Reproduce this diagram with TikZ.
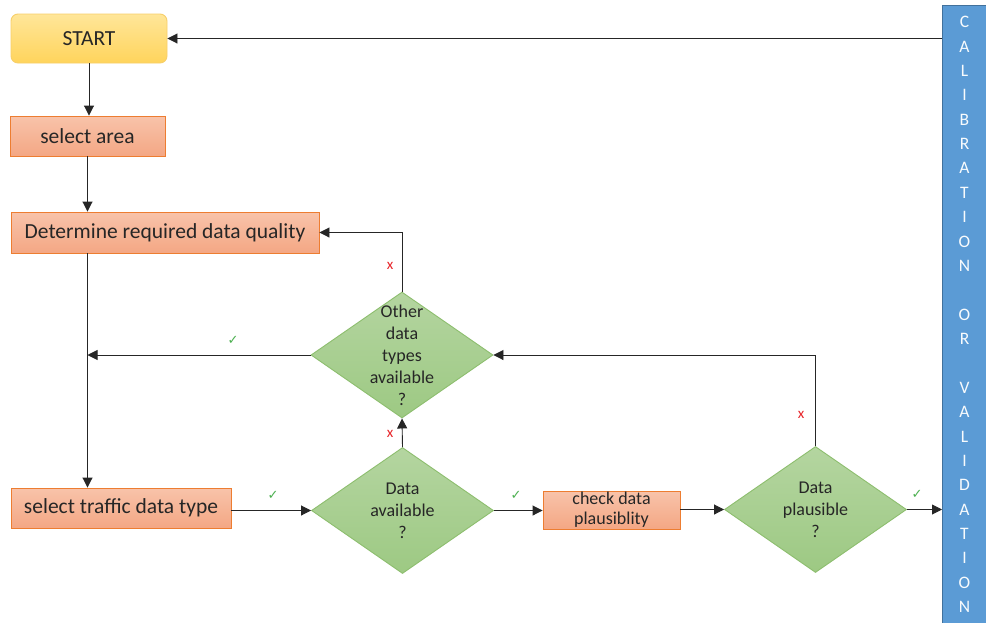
\documentclass[tikz,border=0pt]{standalone}
\usepackage{fontspec}
\setmainfont{Carlito}
\newfontfamily\symf{DejaVu Sans}
\usetikzlibrary{shapes.geometric,arrows.meta}
\definecolor{txt}{HTML}{262626}
\definecolor{salT}{HTML}{F8C3AA}
\definecolor{salB}{HTML}{F4A784}
\definecolor{salD}{HTML}{ED7D31}
\definecolor{yelT}{HTML}{FFE699}
\definecolor{yelB}{HTML}{FFD45C}
\definecolor{yelD}{HTML}{F7CF6A}
\definecolor{grnT}{HTML}{B4D5A0}
\definecolor{grnB}{HTML}{9DC983}
\definecolor{grnD}{HTML}{8DBE6E}
\definecolor{blu}{HTML}{5B9BD5}
\definecolor{bluD}{HTML}{41719C}
\definecolor{okc}{HTML}{4CB050}
\definecolor{noc}{HTML}{E8262B}
\tikzset{
  procbox/.style={draw=salD, top color=salT, bottom color=salB, line width=0.9pt,
    text=txt, inner sep=0pt, font=\fontsize{21.5}{24}\selectfont},
  startbox/.style={draw=yelD, top color=yelT, bottom color=yelB, line width=0.9pt,
    rounded corners=7pt, text=txt, inner sep=0pt, font=\fontsize{21.5}{24}\selectfont},
  decision/.style={diamond, draw=grnD, top color=grnT, bottom color=grnB, line width=0.9pt,
    inner sep=0pt, minimum width=182pt, minimum height=126pt},
  dtext/.style={align=center, text=txt, font=\fontsize{18}{22}\selectfont},
  arr/.style={draw=black!85, line width=0.9pt, -{Triangle[length=10pt,width=10pt]}},
  ok/.style={text=okc, font=\symf\fontsize{13}{13}\selectfont},
  no/.style={text=noc, font=\fontsize{15}{15}\selectfont},
}
\begin{document}
\begin{tikzpicture}[x=1pt,y=-1pt]
\useasboundingbox[fill=white] (0,0) rectangle (986,622);

% nodes
\node[startbox, minimum width=156pt, minimum height=49pt] (start) at (89,38.5) {START};
\node[procbox, minimum width=155pt, minimum height=40pt] (sa) at (87.5,136) {select area};
\node[procbox, minimum width=308pt, minimum height=41pt] (det) at (165,232.5) {Determine required data quality};
\node[procbox, minimum width=220pt, minimum height=40pt] (tra) at (121,508) {select traffic data type};
\node[procbox, minimum width=137pt, minimum height=38pt, align=center,
      font=\fontsize{18}{20}\selectfont] (chk) at (611.5,510) {check data\\plausiblity};
\node[decision] (oth) at (402,355) {};
\node[dtext] (othT) at (402,355) {Other\\data\\types\\available\\?};
\node[decision] (ava) at (402.5,510.5) {};
\node[dtext] (avaT) at (402.5,510.5) {Data\\available\\?};
\node[decision] (pla) at (815.5,509.5) {};
\node[dtext] (plaT) at (815.5,509.5) {Data\\plausible\\?};
\node[draw=bluD, fill=blu, line width=1pt, minimum width=44pt, minimum height=620pt,
      inner sep=0pt] (bar) at (964.5,315) {};
\node[text=white!96!blu, align=center, font=\fontsize{17.5}{24.375}\selectfont] (barT) at (964.5,314.5)
  {C\\A\\L\\I\\B\\R\\A\\T\\I\\O\\N\\~\\O\\R\\~\\V\\A\\L\\I\\D\\A\\T\\I\\O\\N};

% connectors
\coordinate (barin) at (bar.west |- start.east);
\coordinate (j) at (sa.south |- oth.west);
\draw[arr] (barin) -- (start.east);
\draw[arr] (start.south) -- (start.south |- sa.north);
\draw[arr] (sa.south) -- (sa.south |- det.north);
\draw[arr] (sa.south |- det.south) -- (sa.south |- tra.north);
\draw[arr] (oth.north) |- (det.east);
\draw[arr] (oth.west) -- (j);
\draw[arr] (ava.north) -- (oth.south);
\draw[arr] (tra.east |- ava.west) -- (ava.west);
\draw[arr] (ava.east) -- (chk.west |- ava.east);
\draw[arr] (chk.east |- pla.west) -- (pla.west);
\draw[arr] (pla.north) |- (oth.east);
\draw[arr] (pla.east) -- (pla.east -| bar.west);

% labels
\node[no] (l1) at (390,266) {x};
\node[ok] (l2) at (233,340) {✓};
\node[no] (l3) at (390,434) {x};
\node[ok] (l4) at (273,495) {✓};
\node[ok] (l5) at (516,495) {✓};
\node[no] (l6) at (801,415) {x};
\node[ok] (l7) at (917,494) {✓};
\end{tikzpicture}
\end{document}
